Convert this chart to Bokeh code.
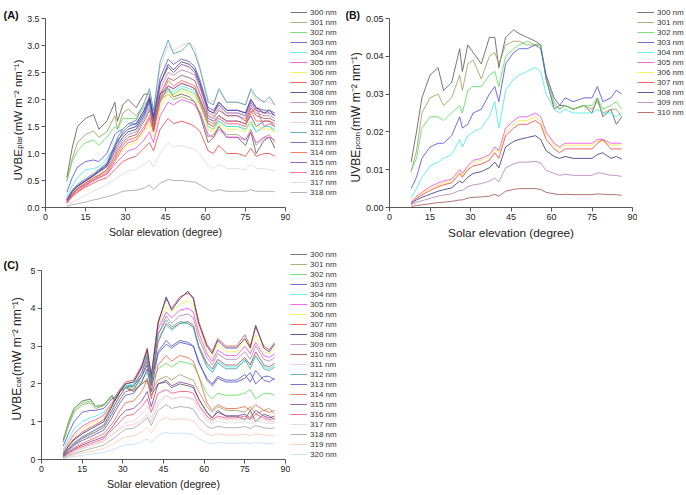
import math
from bokeh.plotting import figure
from bokeh.models import Range1d, Legend, LegendItem, Label, FixedTicker, NumeralTickFormatter
from bokeh.layouts import column, row
from bokeh.embed import file_html
from bokeh.resources import INLINE

# ---------------- data ----------------
elevation = [8, 10, 12, 15, 18, 20, 23, 26, 27, 29, 31, 34, 37, 39, 40.5, 43, 46, 48, 51, 54,
             56, 58, 61, 63, 65, 68, 72, 75, 77, 79, 82, 84, 86]

x_ticks = [0, 15, 30, 45, 60, 75, 90]
a_yticks = [0, 0.5, 1.0, 1.5, 2.0, 2.5, 3.0, 3.5]
b_yticks = [0, 0.01, 0.02, 0.03, 0.04, 0.05]
c_yticks = [0, 1, 2, 3, 4, 5]

# (A) UVBE plar
plar_300 = [0.55, 1.10, 1.50, 1.65, 1.72, 1.45, 1.60, 1.95, 1.60, 1.90, 2.00, 1.85, 2.10, 2.10, 1.40, 2.10, 2.20, 2.05, 2.10, 2.05, 1.95, 1.70, 1.20, 1.30, 1.50, 1.30, 1.30, 1.15, 1.40, 1.00, 1.25, 1.30, 1.10]
plar_301 = [0.48, 0.90, 1.20, 1.35, 1.42, 1.30, 1.40, 1.70, 1.45, 1.75, 1.82, 1.70, 1.90, 2.00, 1.50, 2.00, 2.10, 2.00, 2.05, 2.00, 1.95, 1.75, 1.30, 1.35, 1.50, 1.35, 1.35, 1.25, 1.45, 1.15, 1.30, 1.35, 1.20]
plar_302 = [0.50, 0.85, 1.05, 1.20, 1.25, 1.15, 1.30, 1.50, 1.45, 1.65, 1.65, 1.65, 1.85, 1.95, 1.60, 2.05, 2.15, 2.10, 2.20, 2.15, 2.10, 1.90, 1.50, 1.45, 1.60, 1.50, 1.50, 1.45, 1.60, 1.40, 1.50, 1.50, 1.40]
plar_303 = [0.28, 0.55, 0.75, 0.85, 0.88, 0.85, 1.00, 1.35, 1.40, 1.45, 1.55, 1.55, 1.80, 2.05, 1.70, 2.10, 2.25, 2.20, 2.30, 2.25, 2.20, 2.00, 1.65, 1.60, 1.70, 1.60, 1.60, 1.55, 1.70, 1.50, 1.60, 1.60, 1.50]
plar_304 = [0.20, 0.40, 0.55, 0.70, 0.72, 0.75, 0.90, 1.15, 1.20, 1.30, 1.40, 1.45, 1.70, 1.90, 1.60, 2.00, 2.20, 2.15, 2.25, 2.20, 2.15, 1.95, 1.55, 1.50, 1.60, 1.50, 1.50, 1.45, 1.55, 1.40, 1.50, 1.50, 1.45]
plar_305 = [0.10, 0.25, 0.33, 0.42, 0.50, 0.55, 0.62, 0.80, 0.85, 0.95, 1.05, 1.10, 1.25, 1.40, 1.20, 1.70, 1.95, 1.90, 2.00, 1.95, 1.90, 1.75, 1.35, 1.30, 1.45, 1.30, 1.30, 1.25, 1.40, 1.20, 1.30, 1.30, 1.25]
plar_306 = [0.12, 0.27, 0.35, 0.45, 0.55, 0.60, 0.68, 0.88, 0.92, 1.05, 1.15, 1.20, 1.40, 1.55, 1.30, 1.85, 2.10, 2.05, 2.15, 2.10, 2.05, 1.85, 1.45, 1.40, 1.55, 1.45, 1.45, 1.40, 1.60, 1.50, 1.45, 1.45, 1.40]
plar_307 = [0.08, 0.20, 0.28, 0.38, 0.45, 0.50, 0.55, 0.70, 0.75, 0.85, 0.90, 0.95, 1.10, 1.20, 1.05, 1.45, 1.65, 1.55, 1.60, 1.55, 1.50, 1.40, 1.05, 1.00, 1.15, 1.00, 1.00, 0.95, 1.10, 0.95, 1.00, 1.00, 0.95]
plar_308 = [0.15, 0.30, 0.40, 0.50, 0.60, 0.68, 0.80, 1.10, 1.25, 1.35, 1.45, 1.50, 1.75, 2.00, 1.65, 2.30, 2.65, 2.55, 2.70, 2.65, 2.55, 2.30, 1.80, 1.75, 1.95, 1.80, 1.80, 1.75, 2.00, 1.85, 1.75, 1.80, 1.70]
plar_309 = [0.13, 0.28, 0.38, 0.48, 0.58, 0.65, 0.75, 1.00, 1.10, 1.25, 1.35, 1.40, 1.65, 1.85, 1.55, 2.20, 2.50, 2.45, 2.55, 2.50, 2.45, 2.20, 1.75, 1.70, 1.85, 1.70, 1.70, 1.65, 1.90, 1.75, 1.70, 1.70, 1.65]
plar_310 = [0.10, 0.25, 0.35, 0.45, 0.55, 0.60, 0.70, 0.95, 1.05, 1.20, 1.30, 1.35, 1.60, 1.80, 1.50, 2.10, 2.40, 2.35, 2.45, 2.40, 2.35, 2.10, 1.70, 1.65, 1.80, 1.70, 1.70, 1.60, 1.85, 1.70, 1.65, 1.65, 1.60]
plar_311 = [0.15, 0.32, 0.42, 0.52, 0.62, 0.70, 0.82, 1.15, 1.30, 1.45, 1.55, 1.60, 1.90, 2.15, 1.80, 2.60, 3.00, 2.90, 3.00, 3.05, 2.95, 2.60, 2.00, 1.95, 2.15, 1.95, 1.95, 1.90, 2.15, 2.00, 1.95, 1.95, 1.90]
plar_312 = [0.15, 0.32, 0.43, 0.53, 0.63, 0.70, 0.83, 1.15, 1.30, 1.45, 1.55, 1.62, 1.95, 2.20, 1.80, 2.70, 3.10, 2.85, 2.90, 3.05, 2.85, 2.55, 1.95, 1.90, 2.20, 1.95, 1.95, 1.90, 2.20, 2.05, 1.95, 2.05, 1.90]
plar_313 = [0.14, 0.30, 0.40, 0.50, 0.60, 0.67, 0.78, 1.15, 1.20, 1.40, 1.50, 1.55, 1.80, 2.05, 1.70, 2.40, 2.75, 2.65, 2.75, 2.70, 2.60, 2.35, 1.85, 1.80, 1.95, 1.80, 1.80, 1.75, 2.00, 1.85, 1.80, 1.80, 1.75]
plar_314 = [0.10, 0.24, 0.33, 0.43, 0.52, 0.58, 0.66, 0.90, 1.00, 1.15, 1.25, 1.30, 1.50, 1.70, 1.45, 2.00, 2.35, 2.25, 2.35, 2.30, 2.25, 2.00, 1.60, 1.55, 1.70, 1.60, 1.60, 1.55, 1.80, 1.60, 1.60, 1.60, 1.55]
plar_315 = [0.13, 0.29, 0.39, 0.49, 0.59, 0.66, 0.76, 1.05, 1.15, 1.30, 1.40, 1.45, 1.70, 1.95, 1.60, 2.30, 2.60, 2.50, 2.65, 2.60, 2.50, 2.25, 1.80, 1.75, 1.90, 1.75, 1.75, 1.70, 1.95, 1.80, 1.75, 1.75, 1.70]
plar_316 = [0.09, 0.22, 0.30, 0.40, 0.50, 0.55, 0.62, 0.85, 0.95, 1.10, 1.20, 1.25, 1.45, 1.65, 1.40, 1.95, 2.25, 2.20, 2.30, 2.25, 2.20, 1.95, 1.55, 1.50, 1.65, 1.55, 1.55, 1.50, 1.75, 1.85, 1.50, 1.55, 1.50]
plar_317 = [0.04, 0.10, 0.15, 0.22, 0.30, 0.35, 0.42, 0.52, 0.55, 0.62, 0.68, 0.70, 0.80, 0.88, 0.75, 1.00, 1.20, 1.12, 1.15, 1.10, 1.08, 0.98, 0.78, 0.72, 0.80, 0.72, 0.72, 0.70, 0.80, 0.72, 0.72, 0.70, 0.68]
plar_318 = [0.02, 0.05, 0.07, 0.10, 0.14, 0.16, 0.20, 0.24, 0.26, 0.30, 0.31, 0.32, 0.36, 0.42, 0.33, 0.45, 0.52, 0.50, 0.50, 0.48, 0.47, 0.42, 0.33, 0.30, 0.33, 0.30, 0.30, 0.30, 0.33, 0.30, 0.30, 0.30, 0.29]

# (B) UVBE pcon
pcon_300 = [.012, .020, .029, .035, .037, .031, .033, .042, .036, .043, .041, .038, .045, .045, .037, .045, .047, .046, .045, .044, .043, .034, .026, .027, .027, .026, .027, .025, .029, .024, .026, .022, .024]
pcon_301 = [.0095, .015, .025, .029, .030, .027, .029, .035, .031, .038, .039, .034, .040, .041, .038, .043, .044, .044, .043, .043, .043, .034, .027, .026, .027, .026, .027, .026, .028, .025, .026, .026, .024]
pcon_302 = [.0098, .013, .021, .024, .024, .023, .025, .027, .025, .031, .032, .032, .035, .036, .032, .040, .042, .043, .044, .043, .043, .035, .028, .026, .027, .026, .027, .027, .029, .026, .027, .028, .026]
pcon_303 = [.005, .008, .013, .016, .017, .017, .019, .024, .021, .022, .025, .026, .030, .032, .028, .038, .041, .042, .042, .043, .042, .035, .029, .027, .029, .028, .029, .029, .032, .028, .029, .031, .030]
pcon_304 = [.0025, .005, .008, .011, .012, .013, .014, .018, .016, .019, .020, .021, .024, .028, .021, .031, .034, .035, .036, .037, .036, .030, .026, .025, .026, .025, .025, .025, .026, .025, .025, .024, .025]
pcon_305 = [.0015, .003, .004, .0055, .0065, .007, .0075, .010, .009, .011, .0125, .013, .014, .016, .015, .021, .023, .024, .024, .025, .024, .020, .017, .016, .017, .017, .017, .017, .018, .018, .017, .017, .017]
pcon_306 = [.0013, .0027, .0037, .005, .006, .0065, .007, .0095, .0085, .0105, .012, .0125, .0135, .0155, .0145, .020, .022, .023, .023, .024, .023, .019, .0165, .0155, .0165, .0165, .0165, .0165, .0175, .0175, .0165, .0165, .0165]
pcon_307 = [.0012, .0024, .0033, .0045, .0055, .006, .0065, .009, .008, .010, .011, .0115, .0125, .0145, .013, .019, .021, .022, .022, .023, .022, .018, .0155, .0145, .0155, .0155, .0155, .0155, .017, .018, .0155, .0155, .0155]
pcon_308 = [.001, .002, .0027, .0035, .0043, .0047, .0052, .007, .0065, .008, .009, .0095, .0105, .012, .0105, .016, .0175, .018, .0185, .019, .018, .015, .0135, .013, .0135, .013, .013, .013, .014, .0145, .013, .0135, .0128]
pcon_309 = [.0007, .0013, .0018, .0024, .003, .0033, .0036, .0045, .0045, .0055, .006, .0063, .007, .0078, .0068, .0105, .0115, .012, .012, .0122, .0118, .0098, .009, .0085, .0088, .0085, .0085, .0085, .0092, .009, .0085, .0085, .0082]
pcon_310 = [.0003, .0005, .0007, .001, .0013, .0014, .0016, .002, .002, .0025, .0027, .0028, .003, .0035, .003, .0043, .0048, .005, .005, .005, .0048, .004, .0036, .0034, .0035, .0034, .0034, .0034, .0036, .0035, .0034, .0034, .0032]

# (C) UVBE cat
cat_300 = [0.50, 1.00, 1.35, 1.55, 1.60, 1.40, 1.45, 1.70, 1.55, 1.80, 1.90, 1.80, 2.00, 2.10, 1.70, 2.00, 2.05, 1.90, 2.00, 1.95, 1.90, 1.60, 1.25, 1.10, 1.30, 1.15, 1.15, 1.05, 1.30, 1.00, 1.20, 1.15, 1.05]
cat_301 = [0.45, 0.90, 1.25, 1.45, 1.50, 1.35, 1.42, 1.65, 1.55, 1.80, 1.90, 1.85, 2.00, 2.15, 1.80, 2.10, 2.20, 2.10, 2.25, 2.15, 2.10, 1.80, 1.40, 1.25, 1.40, 1.30, 1.30, 1.25, 1.40, 1.20, 1.30, 1.35, 1.20]
cat_302 = [0.55, 0.95, 1.30, 1.50, 1.55, 1.40, 1.45, 1.70, 1.60, 1.85, 1.95, 1.90, 2.10, 2.30, 2.00, 2.40, 2.55, 2.45, 2.60, 2.55, 2.50, 2.20, 1.75, 1.60, 1.75, 1.70, 1.70, 1.75, 1.85, 1.60, 1.75, 1.75, 1.70]
cat_303 = [0.35, 0.70, 1.00, 1.25, 1.30, 1.30, 1.35, 1.60, 1.65, 1.85, 1.95, 1.95, 2.20, 2.50, 2.10, 2.80, 3.05, 2.95, 3.10, 3.05, 3.00, 2.60, 2.10, 1.95, 2.15, 2.05, 2.05, 2.15, 2.30, 2.00, 2.20, 2.20, 2.10]
cat_304 = [0.25, 0.55, 0.80, 1.00, 1.10, 1.15, 1.25, 1.50, 1.60, 1.85, 1.95, 2.00, 2.30, 2.70, 2.10, 3.20, 3.55, 3.40, 3.60, 3.60, 3.50, 3.00, 2.50, 2.35, 2.60, 2.45, 2.45, 2.60, 2.55, 2.70, 2.45, 2.40, 2.50]
cat_305 = [0.20, 0.45, 0.68, 0.88, 1.00, 1.05, 1.18, 1.50, 1.60, 1.85, 2.00, 2.05, 2.40, 2.80, 2.20, 3.45, 3.90, 3.75, 3.95, 4.00, 3.90, 3.35, 2.80, 2.60, 2.90, 2.75, 2.75, 3.00, 2.80, 3.10, 2.75, 2.70, 2.80]
cat_306 = [0.18, 0.42, 0.62, 0.82, 0.95, 1.00, 1.12, 1.50, 1.60, 1.85, 2.00, 2.05, 2.45, 2.85, 2.20, 3.55, 4.05, 3.90, 4.10, 4.20, 4.10, 3.50, 2.90, 2.70, 3.05, 2.85, 2.85, 3.15, 2.90, 3.30, 2.85, 2.80, 2.95]
cat_307 = [0.15, 0.38, 0.55, 0.72, 0.85, 0.92, 1.05, 1.45, 1.60, 1.85, 2.05, 2.10, 2.50, 2.95, 2.25, 3.65, 4.25, 4.00, 4.30, 4.40, 4.30, 3.65, 3.05, 2.85, 3.20, 3.00, 3.00, 3.30, 3.00, 3.50, 3.00, 2.90, 3.10]
cat_308 = [0.14, 0.35, 0.52, 0.68, 0.80, 0.88, 1.00, 1.40, 1.55, 1.80, 2.00, 2.05, 2.45, 2.90, 2.15, 3.60, 4.30, 3.95, 4.25, 4.45, 4.25, 3.60, 3.00, 2.80, 3.15, 2.95, 2.95, 3.20, 2.95, 3.55, 2.95, 2.85, 3.05]
cat_309 = [0.12, 0.30, 0.45, 0.60, 0.72, 0.80, 0.92, 1.30, 1.45, 1.70, 1.90, 1.95, 2.30, 2.70, 2.00, 3.30, 3.80, 3.60, 3.80, 3.85, 3.75, 3.20, 2.70, 2.50, 2.80, 2.65, 2.65, 2.85, 2.65, 3.00, 2.65, 2.60, 2.70]
cat_310 = [0.10, 0.27, 0.40, 0.55, 0.66, 0.73, 0.85, 1.20, 1.35, 1.60, 1.80, 1.85, 2.20, 2.60, 1.95, 3.10, 3.60, 3.45, 3.60, 3.65, 3.55, 3.00, 2.55, 2.40, 2.65, 2.50, 2.50, 2.70, 2.50, 2.85, 2.50, 2.45, 2.55]
cat_311 = [0.05, 0.14, 0.22, 0.30, 0.38, 0.42, 0.50, 0.65, 0.70, 0.80, 0.90, 0.92, 1.05, 1.20, 1.00, 1.45, 1.70, 1.60, 1.65, 1.65, 1.60, 1.40, 1.10, 1.00, 1.10, 1.05, 1.05, 1.05, 1.10, 1.05, 1.05, 1.00, 1.00]
cat_312 = [0.11, 0.28, 0.43, 0.58, 0.70, 0.78, 0.90, 1.30, 1.45, 1.70, 1.90, 1.95, 2.30, 2.75, 2.05, 3.30, 3.70, 3.50, 3.65, 3.60, 3.50, 2.95, 2.45, 2.30, 2.55, 2.40, 2.40, 2.65, 2.40, 2.75, 2.40, 2.35, 2.45]
cat_313 = [0.09, 0.24, 0.37, 0.50, 0.60, 0.67, 0.78, 1.10, 1.25, 1.50, 1.70, 1.75, 2.05, 2.40, 1.80, 2.85, 3.15, 3.00, 3.15, 3.10, 3.00, 2.55, 2.15, 2.00, 2.20, 2.10, 2.10, 2.25, 2.05, 2.35, 2.10, 2.05, 2.15]
cat_314 = [0.08, 0.20, 0.31, 0.42, 0.52, 0.58, 0.68, 0.95, 1.05, 1.30, 1.50, 1.55, 1.80, 2.10, 1.60, 2.50, 2.75, 2.60, 2.75, 2.70, 2.60, 2.20, 1.50, 1.30, 1.45, 1.35, 1.35, 1.40, 1.30, 1.45, 1.30, 1.25, 1.30]
cat_315 = [0.07, 0.18, 0.28, 0.38, 0.47, 0.52, 0.60, 0.85, 0.95, 1.15, 1.30, 1.35, 1.55, 1.80, 1.40, 2.00, 2.10, 1.95, 2.05, 2.00, 1.95, 1.60, 1.25, 1.10, 1.25, 1.15, 1.15, 1.20, 1.10, 1.30, 1.15, 1.10, 1.15]
cat_316 = [0.06, 0.16, 0.25, 0.34, 0.42, 0.47, 0.55, 0.78, 0.85, 1.00, 1.15, 1.20, 1.40, 1.60, 1.25, 1.75, 1.85, 1.75, 1.80, 1.80, 1.75, 1.45, 1.15, 1.05, 1.15, 1.10, 1.10, 1.15, 1.05, 1.20, 1.10, 1.05, 1.10]
cat_317 = [0.05, 0.13, 0.20, 0.28, 0.35, 0.40, 0.47, 0.66, 0.72, 0.85, 0.98, 1.02, 1.20, 1.40, 1.10, 1.55, 1.70, 1.60, 1.65, 1.62, 1.58, 1.30, 1.02, 0.95, 1.02, 0.97, 0.97, 1.00, 0.95, 1.02, 0.97, 0.95, 0.97]
cat_318 = [0.04, 0.10, 0.16, 0.22, 0.28, 0.32, 0.38, 0.53, 0.58, 0.70, 0.80, 0.83, 0.97, 1.12, 0.90, 1.30, 1.45, 1.35, 1.40, 1.38, 1.33, 1.10, 0.88, 0.82, 0.88, 0.84, 0.84, 0.87, 0.82, 0.90, 0.84, 0.82, 0.83]
cat_319 = [0.03, 0.08, 0.12, 0.17, 0.21, 0.24, 0.29, 0.40, 0.44, 0.53, 0.60, 0.62, 0.73, 0.85, 0.70, 1.00, 1.12, 1.05, 1.08, 1.06, 1.02, 0.85, 0.68, 0.63, 0.68, 0.65, 0.65, 0.67, 0.63, 0.68, 0.65, 0.63, 0.63]
cat_320 = [0.02, 0.05, 0.08, 0.11, 0.14, 0.16, 0.19, 0.26, 0.28, 0.34, 0.39, 0.40, 0.47, 0.55, 0.45, 0.64, 0.72, 0.68, 0.70, 0.68, 0.66, 0.55, 0.45, 0.42, 0.45, 0.43, 0.43, 0.44, 0.42, 0.45, 0.43, 0.42, 0.42]

wavelengths = ["300 nm", "301 nm", "302 nm", "303 nm", "304 nm", "305 nm", "306 nm", "307 nm",
               "308 nm", "309 nm", "310 nm", "311 nm", "312 nm", "313 nm", "314 nm", "315 nm",
               "316 nm", "317 nm", "318 nm", "319 nm", "320 nm"]

colors = ["#555555", "#9c9a5a", "#55dd55", "#4a4ad8", "#44e8e8", "#ee44ee", "#f0f040", "#ee4040",
          "#303080", "#b080b0", "#a05050", "#f0c0c8", "#40a0a0", "#5050c0", "#f06040", "#8040a0",
          "#f05070", "#d8d8d8", "#a0a0a0", "#f8c8b0", "#c0dcf0"]

series_a = [plar_300, plar_301, plar_302, plar_303, plar_304, plar_305, plar_306, plar_307, plar_308, plar_309,
            plar_310, plar_311, plar_312, plar_313, plar_314, plar_315, plar_316, plar_317, plar_318]
series_b = [pcon_300, pcon_301, pcon_302, pcon_303, pcon_304, pcon_305, pcon_306, pcon_307, pcon_308, pcon_309, pcon_310]
series_c = [cat_300, cat_301, cat_302, cat_303, cat_304, cat_305, cat_306, cat_307, cat_308, cat_309, cat_310,
            cat_311, cat_312, cat_313, cat_314, cat_315, cat_316, cat_317, cat_318, cat_319, cat_320]

for s in series_a + series_b + series_c:
    assert len(s) == len(elevation), len(s)

FONT = "Liberation Sans"
TXT = "#222222"
AXC = "#555555"
LINE_W = 1
LINE_A = 0.8
NAN = float("nan")

CW = {"U": .722, "V": .667, "B": .667, "E": .667, "p": .556, "l": .222, "a": .556, "r": .333,
      "c": .5, "o": .556, "n": .556, "t": .278}


def twidth(s, size):
    return sum(CW.get(ch, .556) for ch in s) * size


def blank_fig(width, height):
    q = figure(width=width, height=height, x_range=Range1d(0, 1), y_range=Range1d(0, 1),
               output_backend="svg", toolbar_location=None, min_border=0,
               x_axis_location=None, y_axis_location=None)
    q.outline_line_color = None
    q.grid.visible = False
    q.background_fill_color = "white"
    q.border_fill_color = "white"
    return q


def make_fig(width, height, frame_h, axis_h, y_top, yticks, yfmt, mb, tick_fs, lab_fs):
    # the frame reaches the top of the canvas; the y axis itself is bounded to 0..y_top
    y_end = y_top * frame_h / axis_h
    p = figure(width=width, height=height, x_range=Range1d(0, 90), y_range=Range1d(0, y_end),
               output_backend="svg", toolbar_location=None,
               min_border_left=mb[0], min_border_right=mb[1], min_border_top=mb[2], min_border_bottom=mb[3])
    p.outline_line_color = None
    p.grid.visible = False
    p.background_fill_color = "white"
    p.border_fill_color = "white"
    for ax in (p.xaxis[0], p.yaxis[0]):
        ax.axis_line_color = AXC
        ax.major_tick_line_color = AXC
        ax.major_tick_out = 4
        ax.major_tick_in = 0
        ax.minor_tick_line_color = None
        ax.major_label_text_font = FONT
        ax.major_label_text_font_size = tick_fs
        ax.major_label_text_color = TXT
        ax.major_label_standoff = 2
    p.yaxis.bounds = (0, y_top)
    p.xaxis.ticker = FixedTicker(ticks=x_ticks)
    p.xaxis.axis_label = "Solar elevation (degree)"
    p.xaxis.axis_label_text_font = FONT
    p.xaxis.axis_label_text_font_size = lab_fs
    p.xaxis.axis_label_text_font_style = "normal"
    p.xaxis.axis_label_text_color = TXT
    p.xaxis.axis_label_standoff = 3
    p.yaxis.ticker = FixedTicker(ticks=yticks)
    p.yaxis.formatter = NumeralTickFormatter(format=yfmt)
    return p


def draw(p, series):
    for vals, c in zip(series, colors):
        p.line(elevation, vals, line_color=c, line_width=LINE_W, line_alpha=LINE_A)


def legend_fig(width, height, names, leg_x, leg_y, item_h, leg_fs, pad):
    q = blank_fig(width, height)
    items = []
    for n, c in zip(names, colors):
        # placeholder renderer (no visible data) that only provides the legend swatch
        r = q.line([NAN], [NAN], line_color=c, line_width=LINE_W, line_alpha=LINE_A)
        items.append(LegendItem(label=n, renderers=[r]))
    lg = Legend(items=items, location=(leg_x, leg_y), padding=pad, spacing=0, margin=0,
                glyph_width=17, glyph_height=item_h, label_height=item_h, label_standoff=3,
                label_text_font=FONT, label_text_font_size=leg_fs, label_text_color="#333333",
                background_fill_alpha=0, border_line_color=None)
    q.add_layout(lg)
    return q


def ylabel(q, sub, x, y, big, small):
    common = dict(x_units="screen", y_units="screen", angle=math.pi / 2, text_font=FONT,
                  text_color=TXT, text_align="left", text_baseline="alphabetic")
    w1 = twidth("UVBE", big)
    ws = twidth(sub, small)
    q.add_layout(Label(x=x, y=y, text="UVBE", text_font_size=f"{big}px", **common))
    q.add_layout(Label(x=x + 2, y=y + w1 + 0.5, text=sub, text_font_size=f"{small}px", **common))
    q.add_layout(Label(x=x, y=y + w1 + ws + 1.5, text=" (mW m\u207b\u00b2 nm\u207b\u00b9)",
                       text_font_size=f"{big}px", **common))


def title(q, text, x, y, fs="11px"):
    q.add_layout(Label(x=x, y=y, x_units="screen", y_units="screen", text=text, text_font=FONT,
                       text_font_size=fs, text_font_style="bold", text_color="#111111",
                       text_align="left", text_baseline="alphabetic"))


# ---- row 1 : frames span y 0..207 ; axes y 18..207
labA = blank_fig(24, 245)
ylabel(labA, "plar", 17, 27, 11.5, 7.5)
title(labA, "(A)", 3, 193)
pA = make_fig(266, 245, 207, 189, 3.5, a_yticks, "0.0", (17, 5, 0, 38), "8.8px", "10.6px")
draw(pA, series_a)
legA = legend_fig(55, 245, wavelengths[:19], 0, 10, 10, "8px", 1)

labB = blank_fig(17, 245)
ylabel(labB, "pcon", 10, 25, 12, 8)
title(labB, "(B)", 0, 193, "10.5px")
pB = make_fig(275, 245, 207, 189, 0.05, b_yticks, "0.00", (23, 5, 0, 38), "9px", "11.8px")
draw(pB, series_b)
legB = legend_fig(48, 245, wavelengths[:11], 0, 90, 10, "8px", 1)

# ---- row 2 : frames span y 245..459 ; axes y 270..459
labC = blank_fig(24, 248)
ylabel(labC, "cat", 16, 39, 12, 7.8)
title(labC, "(C)", 3, 195)
pC = make_fig(266, 248, 214, 189, 5, c_yticks, "0", (17, 5, 0, 34), "8.8px", "10.6px")
draw(pC, series_c)
legC = legend_fig(55, 248, wavelengths, 0, 0, 10, "8px", 0)

layout = column(row(labA, pA, legA, labB, pB, legB), row(labC, pC, legC))

open("out.html", "w").write(file_html(layout, INLINE, "UVBE"))
